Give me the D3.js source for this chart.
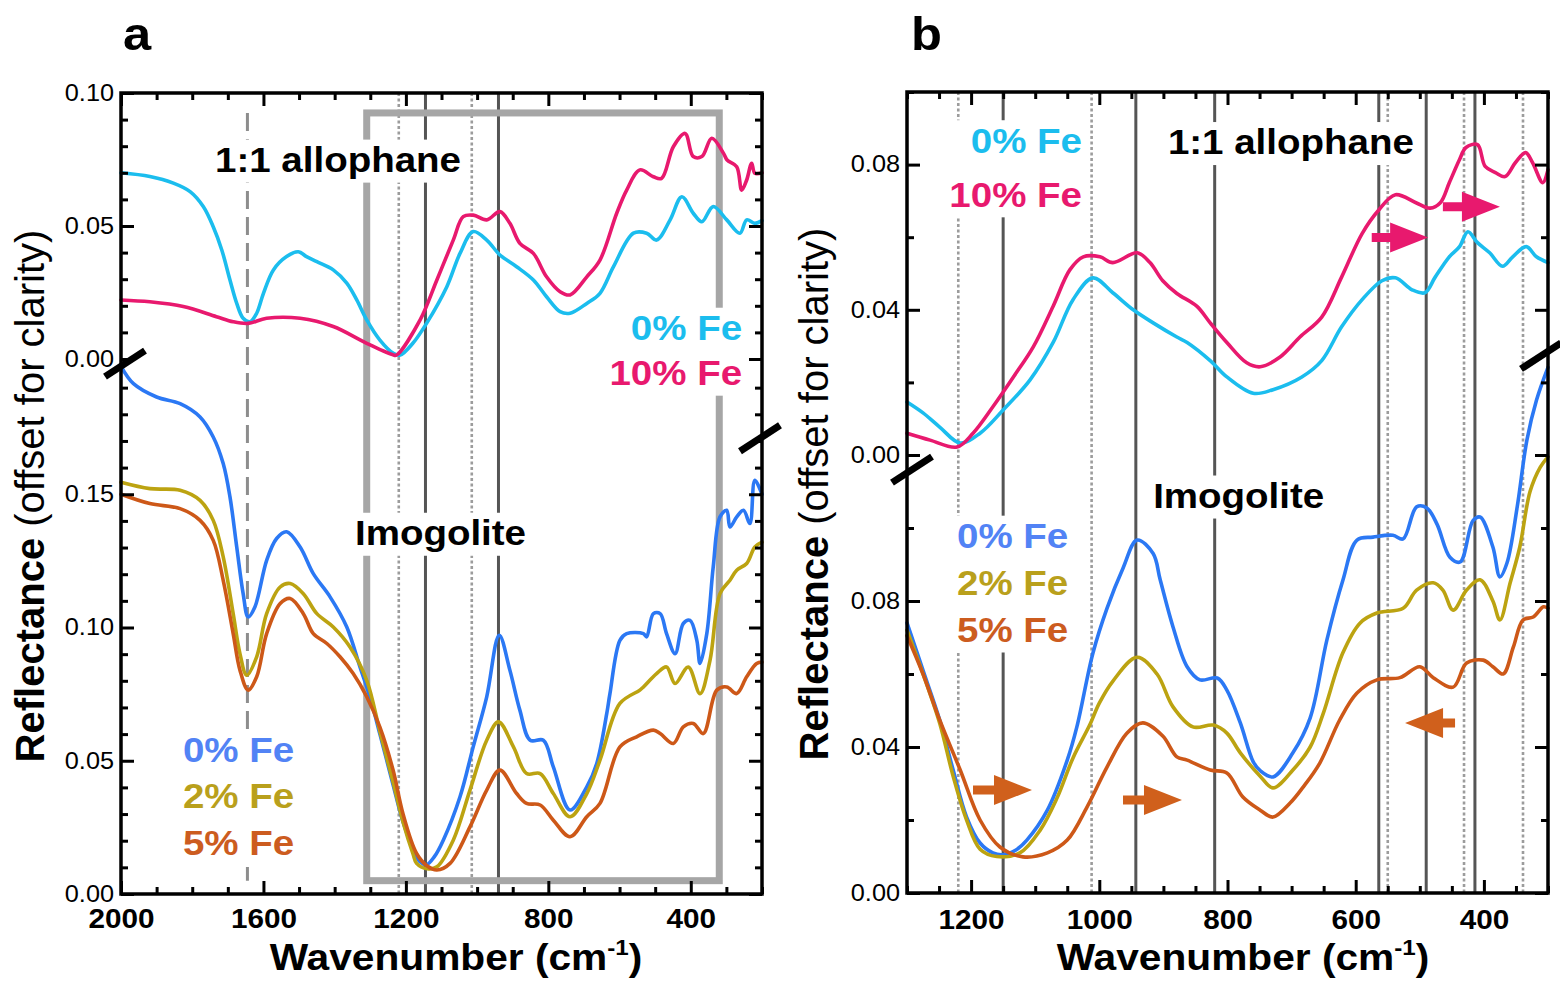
<!DOCTYPE html>
<html>
<head>
<meta charset="utf-8">
<script src="https://cdn.jsdelivr.net/npm/d3@7"></script>
<style>
  body { margin: 0; background: #fff; }
</style>
</head>
<body>
<script>
// ---------- data: [wavenumber cm-1, reflectance] ----------
// panel a, 1:1 allophane (upper segment)
const aCyan = [[2000,0.0700],[1919,0.0686],[1853,0.0661],[1806,0.0629],[1769,0.0573],[1741,0.0497],[1717,0.0410],[1694,0.0297],[1675,0.0209],[1657,0.0153],[1638,0.0140],[1619,0.0172],[1600,0.0247],[1572,0.0335],[1535,0.0385],[1502,0.0403],[1479,0.0385],[1450,0.0366],[1404,0.0335],[1366,0.0285],[1338,0.0222],[1310,0.0147],[1273,0.0071],[1235,0.0021],[1216,0.0015],[1180,0.0060],[1142,0.0134],[1085,0.0272],[1048,0.0397],[1011,0.0479],[973,0.0447],[936,0.0391],[889,0.0347],[842,0.0297],[805,0.0234],[767,0.0178],[739,0.0172],[692,0.0209],[655,0.0247],[617,0.0347],[561,0.0473],[524,0.0473],[496,0.0447],[458,0.0523],[425,0.0610],[393,0.0548],[369,0.0516],[337,0.0573],[299,0.0523],[262,0.0473],[243,0.0523],[220,0.0510],[200,0.0520]];
const aPink = [[2000,0.0222],[1919,0.0215],[1825,0.0197],[1732,0.0159],[1685,0.0140],[1643,0.0134],[1591,0.0153],[1497,0.0153],[1404,0.0122],[1310,0.0059],[1235,0.0015],[1226,0.0015],[1160,0.0147],[1113,0.0297],[1067,0.0447],[1039,0.0535],[1011,0.0541],[973,0.0523],[936,0.0554],[908,0.0510],[880,0.0435],[842,0.0397],[805,0.0309],[767,0.0253],[739,0.0241],[692,0.0309],[655,0.0372],[608,0.0548],[580,0.0635],[543,0.0711],[505,0.0685],[482,0.0679],[449,0.0798],[416,0.0848],[393,0.0761],[369,0.0761],[341,0.0830],[308,0.0773],[298,0.0748],[271,0.0723],[257,0.0635],[243,0.0673],[229,0.0736],[220,0.0698],[200,0.0700]];
// panel a, imogolite (lower segment)
const aBlue = [[2000,0.1980],[1965,0.1915],[1900,0.1865],[1834,0.1840],[1778,0.1790],[1741,0.1715],[1713,0.1615],[1694,0.1490],[1675,0.1302],[1657,0.1127],[1643,0.1040],[1624,0.1077],[1591,0.1252],[1563,0.1334],[1535,0.1359],[1497,0.1302],[1460,0.1202],[1413,0.1115],[1366,0.1002],[1329,0.0852],[1301,0.0740],[1273,0.0600],[1236,0.0410],[1208,0.0270],[1180,0.0170],[1160,0.0120],[1142,0.0110],[1120,0.0140],[1095,0.0202],[1048,0.0365],[1011,0.0552],[973,0.0740],[938,0.0971],[908,0.0840],[880,0.0690],[851,0.0577],[814,0.0577],[786,0.0477],[739,0.0315],[692,0.0402],[664,0.0490],[636,0.0677],[627,0.0752],[599,0.0952],[580,0.0977],[533,0.0977],[524,0.0965],[505,0.1052],[486,0.1052],[468,0.0977],[444,0.0902],[421,0.1015],[402,0.1027],[383,0.0952],[374,0.0865],[355,0.0977],[337,0.1227],[318,0.1415],[299,0.1440],[290,0.1377],[271,0.1415],[252,0.1440],[234,0.1390],[220,0.1552],[200,0.1500]];
const aOlive = [[2000,0.1545],[1919,0.1521],[1834,0.1515],[1778,0.1477],[1741,0.1402],[1713,0.1265],[1685,0.1052],[1666,0.0902],[1647,0.0821],[1619,0.0890],[1591,0.1052],[1553,0.1152],[1525,0.1165],[1488,0.1127],[1450,0.1052],[1404,0.1002],[1357,0.0927],[1310,0.0802],[1273,0.0610],[1236,0.0420],[1208,0.0270],[1180,0.0150],[1170,0.0115],[1140,0.0095],[1113,0.0102],[1067,0.0202],[1020,0.0390],[973,0.0577],[940,0.0646],[898,0.0552],[861,0.0452],[823,0.0452],[786,0.0377],[739,0.0290],[692,0.0377],[655,0.0502],[599,0.0715],[543,0.0765],[533,0.0777],[496,0.0827],[468,0.0852],[444,0.0790],[407,0.0852],[374,0.0752],[346,0.0877],[318,0.1127],[290,0.1177],[271,0.1215],[243,0.1240],[220,0.1302],[200,0.1320]];
const aOrange = [[2000,0.1500],[1919,0.1465],[1834,0.1446],[1778,0.1402],[1741,0.1327],[1713,0.1177],[1685,0.0977],[1666,0.0840],[1643,0.0765],[1619,0.0815],[1591,0.0977],[1553,0.1090],[1525,0.1109],[1488,0.1052],[1460,0.0977],[1422,0.0940],[1385,0.0890],[1348,0.0827],[1310,0.0740],[1273,0.0626],[1236,0.0465],[1208,0.0300],[1170,0.0152],[1140,0.0105],[1113,0.0090],[1076,0.0115],[1020,0.0252],[973,0.0390],[936,0.0465],[889,0.0377],[861,0.0340],[823,0.0334],[786,0.0277],[739,0.0215],[692,0.0290],[655,0.0340],[599,0.0552],[552,0.0590],[505,0.0615],[486,0.0602],[449,0.0565],[421,0.0627],[393,0.0640],[365,0.0602],[327,0.0765],[299,0.0777],[271,0.0752],[243,0.0815],[215,0.0865],[200,0.0870]];

// panel b, 1:1 allophane (upper segment)
const bCyan = [[1300,0.0146],[1275,0.0116],[1249,0.0077],[1217,0.0033],[1186,0.0060],[1150,0.0124],[1108,0.0207],[1072,0.0310],[1041,0.0428],[1010,0.0488],[979,0.0447],[947,0.0400],[916,0.0364],[879,0.0325],[863,0.0310],[827,0.0260],[801,0.0215],[760,0.0170],[729,0.0180],[684,0.0215],[653,0.0260],[622,0.0353],[590,0.0428],[559,0.0480],[538,0.0488],[512,0.0455],[492,0.0447],[476,0.0490],[454,0.0546],[438,0.0574],[425,0.0615],[410,0.0585],[391,0.0557],[371,0.0520],[355,0.0546],[334,0.0574],[318,0.0546],[300,0.0530]];
const bPink = [[1300,0.0060],[1264,0.0041],[1222,0.0022],[1197,0.0060],[1166,0.0133],[1134,0.0215],[1103,0.0298],[1072,0.0410],[1046,0.0510],[1025,0.0546],[999,0.0546],[979,0.0530],[941,0.0557],[921,0.0530],[901,0.0480],[879,0.0445],[848,0.0410],[827,0.0364],[801,0.0310],[770,0.0254],[749,0.0243],[718,0.0270],[687,0.0325],[653,0.0380],[622,0.0490],[590,0.0610],[564,0.0675],[538,0.0717],[506,0.0695],[484,0.0680],[468,0.0695],[454,0.0750],[438,0.0814],[428,0.0847],[410,0.0855],[398,0.0795],[382,0.0778],[367,0.0767],[351,0.0805],[335,0.0833],[324,0.0805],[308,0.0750],[300,0.0786]];
// panel b, imogolite (lower segment)
const bBlue = [[1300,0.0740],[1275,0.0610],[1249,0.0474],[1228,0.0337],[1207,0.0208],[1186,0.0137],[1166,0.0110],[1150,0.0105],[1130,0.0118],[1113,0.0145],[1081,0.0227],[1050,0.0364],[1035,0.0455],[1010,0.0657],[988,0.0780],[963,0.0890],[941,0.0967],[916,0.0930],[905,0.0858],[885,0.0729],[863,0.0620],[843,0.0584],[816,0.0589],[801,0.0556],[780,0.0466],[760,0.0360],[749,0.0335],[729,0.0318],[698,0.0384],[671,0.0480],[645,0.0693],[620,0.0857],[598,0.0967],[573,0.0975],[542,0.0980],[526,0.0970],[505,0.1058],[489,0.1055],[473,0.1010],[453,0.0920],[437,0.0907],[417,0.1020],[406,0.1030],[386,0.0948],[375,0.0866],[364,0.0904],[348,0.1058],[333,0.1240],[318,0.1350],[300,0.1440]];
const bOlive = [[1300,0.0720],[1275,0.0600],[1249,0.0465],[1228,0.0320],[1207,0.0200],[1186,0.0120],[1160,0.0100],[1124,0.0110],[1092,0.0173],[1066,0.0260],[1041,0.0370],[1015,0.0460],[1000,0.0520],[979,0.0580],[941,0.0646],[910,0.0600],[885,0.0510],[854,0.0455],[822,0.0460],[801,0.0438],[780,0.0384],[749,0.0320],[729,0.0288],[698,0.0337],[671,0.0400],[651,0.0490],[620,0.0658],[593,0.0740],[567,0.0767],[526,0.0780],[505,0.0830],[479,0.0850],[464,0.0830],[448,0.0775],[427,0.0830],[406,0.0858],[386,0.0800],[375,0.0748],[359,0.0850],[344,0.0948],[328,0.1100],[312,0.1167],[300,0.1195]];
const bOrange = [[1300,0.0705],[1275,0.0600],[1249,0.0474],[1217,0.0337],[1186,0.0200],[1155,0.0126],[1119,0.0099],[1081,0.0110],[1050,0.0145],[1019,0.0236],[988,0.0345],[957,0.0438],[932,0.0466],[901,0.0430],[879,0.0373],[863,0.0364],[827,0.0337],[801,0.0329],[776,0.0263],[749,0.0227],[729,0.0208],[702,0.0247],[682,0.0290],[656,0.0356],[625,0.0474],[598,0.0548],[567,0.0584],[531,0.0590],[500,0.0620],[479,0.0590],[448,0.0564],[427,0.0630],[401,0.0638],[386,0.0620],[370,0.0600],[354,0.0674],[339,0.0748],[323,0.0756],[307,0.0784],[300,0.0780]];

// band positions (cm-1)
const aSolid = [1145, 940];
const aDotted = [1220, 1015];
const aDashed = [1645];
const bSolid = [1150, 943, 820, 564, 490, 414];
const bDotted = [1220, 1012, 550, 431, 339];

// tick labels
const aXTicks = [2000, 1600, 1200, 800, 400];
const aYUpTicks = [0.00, 0.05, 0.10];
const aYLowTicks = [0.00, 0.05, 0.10, 0.15];
const bXTicks = [1200, 1000, 800, 600, 400];
const bYUpTicks = [0.00, 0.04, 0.08];
const bYLowTicks = [0.00, 0.04, 0.08];

// peak-shift arrows: [tail cm-1, tip cm-1, reflectance]
const bArrowsPink = [[575, 487, 0.0599], [464, 375, 0.0684]];
const bArrowsOrange = [[1197, 1105, 0.0282], [963, 871, 0.0255], [445, 523, 0.0466]];

// ---------- layout ----------
const FONT = '"Liberation Sans", Arial, Helvetica, sans-serif';
const SX = 1.1;   // the original lettering is a bit wide
const C = { cyan: "#1bbdee", pink: "#e8196e", blue: "#2b78f4", olive: "#bca311", orange: "#cd5818" };
const T = { cyan: "#1bbdee", pink: "#e8196e", blue: "#5283f5", olive: "#b9a01c", orange: "#cc5c1f" };

const svg = d3.select("body").append("svg")
  .attr("width", 1560).attr("height", 982)
  .style("font-family", FONT);

function makePanel(o) {
  o.x = d3.scaleLinear().domain(o.xDomain).range([o.left, o.right]);
  o.yUp = d3.scaleLinear().domain(o.upDomain).range([o.upBase, o.top]);
  o.yLow = d3.scaleLinear().domain(o.lowDomain).range([o.bottom, o.lowTop]);
  return o;
}
const pa = makePanel({ xDomain: [2000, 200], left: 121, right: 762, top: 93, bottom: 894,
  upDomain: [0, 0.10], upBase: 359, lowDomain: [0, 0.20], lowTop: 361 });
const pb = makePanel({ xDomain: [1300, 300], left: 907, right: 1548, top: 92, bottom: 893,
  upDomain: [0, 0.10], upBase: 455, lowDomain: [0, 0.12], lowTop: 455 });

const gLines = svg.append("g");
const gRect = svg.append("g");
const gNotes = svg.append("g");
const gCurves = svg.append("g");
const gAxes = svg.append("g");
const gArrows = svg.append("g");

// ---------- band lines ----------
function bands(p, list, kind, y0, y1) {
  const st = {
    solid: { c: "#555", w: 3, d: null },
    dotted: { c: "#9c9c9c", w: 2.6, d: "3,2.5" },
    dashed: { c: "#8d8d8d", w: 3, d: "18,8" }
  }[kind];
  gLines.selectAll(null).data(list).join("line")
    .attr("x1", d => p.x(d)).attr("x2", d => p.x(d))
    .attr("y1", y0).attr("y2", y1)
    .attr("stroke", st.c).attr("stroke-width", st.w)
    .attr("stroke-dasharray", st.d);
}
bands(pa, aSolid, "solid", pa.top, pa.bottom);
bands(pa, aDotted, "dotted", pa.top, pa.bottom);
bands(pa, aDashed, "dashed", pa.yUp(0.0925), pa.yLow(0.005));
bands(pb, bSolid, "solid", pb.top, pb.bottom);
bands(pb, bDotted, "dotted", pb.top, pb.bottom);

// zoom box of panel a (region shown in b)
gRect.append("rect")
  .attr("x", pa.x(1310)).attr("y", pa.yUp(0.0925))
  .attr("width", pa.x(320) - pa.x(1310))
  .attr("height", pa.yLow(0.005) - pa.yUp(0.0925))
  .attr("fill", "none").attr("stroke", "#a6a6a6").attr("stroke-width", 7);

// ---------- text notes with white backing ----------
function note(items, anchor, size) {
  const g = gNotes.append("g");
  const ts = items.map(d => g.append("text")
    .attr("transform", `translate(${d.x},${d.y}) scale(${SX},1)`)
    .attr("text-anchor", anchor)
    .attr("font-size", size).attr("font-weight", "bold")
    .attr("fill", d.color || "#000").text(d.t));
  let x0 = Infinity, y0 = Infinity, x1 = -Infinity, y1 = -Infinity;
  ts.forEach(t => {
    const r = t.node().getBoundingClientRect();
    x0 = Math.min(x0, r.left); y0 = Math.min(y0, r.top);
    x1 = Math.max(x1, r.right); y1 = Math.max(y1, r.bottom);
  });
  g.insert("rect", "text").attr("x", x0 - 4).attr("y", y0 - 1)
    .attr("width", x1 - x0 + 8).attr("height", y1 - y0 + 4).attr("fill", "#fff");
}
const NS = 35;
note([{ t: "1:1 allophane", x: pa.x(1736), y: pa.yUp(0.0703) }], "start", NS);
note([{ t: "Imogolite", x: pa.x(1343), y: pa.yLow(0.1309) }], "start", NS);
note([{ t: "0% Fe", x: pa.x(256), y: pa.yUp(0.0071), color: T.cyan },
      { t: "10% Fe", x: pa.x(256), y: pa.yUp(-0.0098), color: T.pink }], "end", NS);
note([{ t: "0% Fe", x: pa.x(1826), y: pa.yLow(0.0495), color: T.blue },
      { t: "2% Fe", x: pa.x(1826), y: pa.yLow(0.0322), color: T.olive },
      { t: "5% Fe", x: pa.x(1826), y: pa.yLow(0.0146), color: T.orange }], "start", NS);

note([{ t: "0% Fe", x: pb.x(1027), y: pb.yUp(0.0833), color: T.cyan },
      { t: "10% Fe", x: pb.x(1027), y: pb.yUp(0.0684), color: T.pink }], "end", NS);
note([{ t: "1:1 allophane", x: pb.x(893), y: pb.yUp(0.0828) }], "start", NS);
note([{ t: "Imogolite", x: pb.x(916), y: pb.yLow(0.1055) }], "start", NS);
note([{ t: "0% Fe", x: pb.x(1222), y: pb.yLow(0.0945), color: T.blue },
      { t: "2% Fe", x: pb.x(1222), y: pb.yLow(0.0816), color: T.olive },
      { t: "5% Fe", x: pb.x(1222), y: pb.yLow(0.0688), color: T.orange }], "start", NS);

// ---------- spectra ----------
function curve(p, y, data, color) {
  const line = d3.line().x(d => p.x(d[0])).y(d => y(d[1])).curve(d3.curveCatmullRom.alpha(0.5));
  gCurves.append("path").datum(data).attr("d", line)
    .attr("fill", "none").attr("stroke", color).attr("stroke-width", 3.6)
    .attr("stroke-linejoin", "round").attr("stroke-linecap", "round");
}
curve(pa, pa.yUp, aCyan, C.cyan);
curve(pa, pa.yUp, aPink, C.pink);
curve(pa, pa.yLow, aBlue, C.blue);
curve(pa, pa.yLow, aOlive, C.olive);
curve(pa, pa.yLow, aOrange, C.orange);
curve(pb, pb.yUp, bCyan, C.cyan);
curve(pb, pb.yUp, bPink, C.pink);
curve(pb, pb.yLow, bBlue, C.blue);
curve(pb, pb.yLow, bOlive, C.olive);
curve(pb, pb.yLow, bOrange, C.orange);

// ---------- axes ----------
function minors(lo, hi, step, major) {
  const n = Math.round((hi - lo) / step);
  return d3.range(n + 1).map(i => +(lo + i * step).toFixed(4))
    .filter(v => Math.abs(v / major - Math.round(v / major)) > 1e-6);
}
function styleAxis(sel, size, weight) {
  sel.select(".domain").remove();
  sel.selectAll(".tick line").attr("stroke", "#000").attr("stroke-width", 3);
  sel.selectAll(".tick text")
    .attr("font-size", size).attr("font-weight", weight)
    .attr("font-family", FONT).attr("fill", "#000")
    .each(function () {
      const t = d3.select(this);
      const x = +t.attr("x") || 0, y = +t.attr("y") || 0;
      t.attr("x", 0).attr("y", 0).attr("transform", `translate(${x},${y}) scale(${SX},1)`);
    });
}
function axes(p, o) {
  const g = gAxes.append("g");
  const add = (gen, tx, ty, size, weight) =>
    g.append("g").attr("transform", `translate(${tx},${ty})`).call(gen).call(s => styleAxis(s, size, weight));
  const none = () => "";
  // x: bottom and top
  add(d3.axisBottom(p.x).tickValues(o.xMinor).tickSize(-7).tickFormat(none), 0, p.bottom);
  add(d3.axisBottom(p.x).tickValues(o.xMajor).tickSize(-13).tickPadding(o.xPad).tickFormat(d3.format("d")), 0, p.bottom, 27, "bold");
  add(d3.axisTop(p.x).tickValues(o.xMinor).tickSize(-7).tickFormat(none), 0, p.top);
  add(d3.axisTop(p.x).tickValues(o.xMajor).tickSize(-13).tickFormat(none), 0, p.top);
  // y: left labelled, right mirrored
  [["yUp", o.upMinor, o.upMajor], ["yLow", o.lowMinor, o.lowMajor]].forEach(([k, mi, ma]) => {
    add(d3.axisLeft(p[k]).tickValues(mi).tickSize(-7).tickFormat(none), p.left, 0);
    add(d3.axisLeft(p[k]).tickValues(ma).tickSize(-13).tickPadding(7).tickFormat(d3.format(".2f")), p.left, 0, 23, "normal");
    add(d3.axisRight(p[k]).tickValues(mi).tickSize(-7).tickFormat(none), p.right, 0);
    add(d3.axisRight(p[k]).tickValues(ma).tickSize(-13).tickFormat(none), p.right, 0);
  });
  g.append("rect").attr("x", p.left).attr("y", p.top)
    .attr("width", p.right - p.left).attr("height", p.bottom - p.top)
    .attr("fill", "none").attr("stroke", "#000").attr("stroke-width", 3.5);
  // axis breaks
  o.breaks.forEach(([cx, cy]) => {
    g.append("line").attr("x1", cx - 20).attr("y1", cy + 13).attr("x2", cx + 20).attr("y2", cy - 13)
      .attr("stroke", "#000").attr("stroke-width", 7);
  });
}
axes(pa, {
  xMinor: minors(200, 2000, 100, 400), xMajor: aXTicks, xPad: 15,
  upMinor: minors(0, 0.10, 0.01, 0.05), upMajor: aYUpTicks,
  lowMinor: minors(0, 0.19, 0.01, 0.05), lowMajor: aYLowTicks,
  breaks: [[pa.left + 4, pa.yLow(0.199)], [pa.right - 2, pa.yLow(0.171)]]
});
axes(pb, {
  xMinor: minors(300, 1300, 50, 200), xMajor: bXTicks, xPad: 17,
  upMinor: minors(0, 0.10, 0.02, 0.04), upMajor: bYUpTicks,
  lowMinor: minors(0, 0.10, 0.02, 0.04), lowMajor: bYLowTicks,
  breaks: [[pb.left + 5, pb.yLow(0.116)], [pb.right - 7, pb.yUp(0.0273)]]
});

// ---------- arrows ----------
function arrows(p, y, list, color) {
  gArrows.selectAll(null).data(list).join("polygon")
    .attr("points", d => {
      const xt = p.x(d[0]), xp = p.x(d[1]), yy = y(d[2]);
      const s = Math.sign(xp - xt), hb = xp - s * 38;
      return [[xt, yy - 4.5], [hb, yy - 4.5], [hb, yy - 15], [xp, yy], [hb, yy + 15], [hb, yy + 4.5], [xt, yy + 4.5]].join(" ");
    })
    .attr("fill", color);
}
arrows(pb, pb.yUp, bArrowsPink, C.pink);
arrows(pb, pb.yLow, bArrowsOrange, "#d0601c");

// ---------- titles ----------
function xTitle(cx) {
  const t = svg.append("text").attr("transform", `translate(${cx},970) scale(${SX},1)`)
    .attr("text-anchor", "middle").attr("font-size", 37).attr("font-weight", "bold");
  t.append("tspan").text("Wavenumber (cm");
  t.append("tspan").attr("font-size", 22).attr("dy", -15).text("-1");
  t.append("tspan").attr("dy", 15).text(")");
}
function yTitle(bx, cy) {
  const t = svg.append("text").attr("transform", `translate(${bx},${cy}) rotate(-90)`)
    .attr("text-anchor", "middle").attr("font-size", 40);
  t.append("tspan").attr("font-weight", "bold").text("Reflectance ");
  t.append("tspan").text("(offset for clarity)");
}
xTitle(456);
xTitle(1243);
yTitle(44, 496);
yTitle(828, 494);
svg.append("text").attr("transform", `translate(123,50) scale(${SX},1)`)
  .attr("font-size", 46).attr("font-weight", "bold").text("a");
svg.append("text").attr("transform", `translate(911,50) scale(${SX},1)`)
  .attr("font-size", 46).attr("font-weight", "bold").text("b");
</script>
</body>
</html>
